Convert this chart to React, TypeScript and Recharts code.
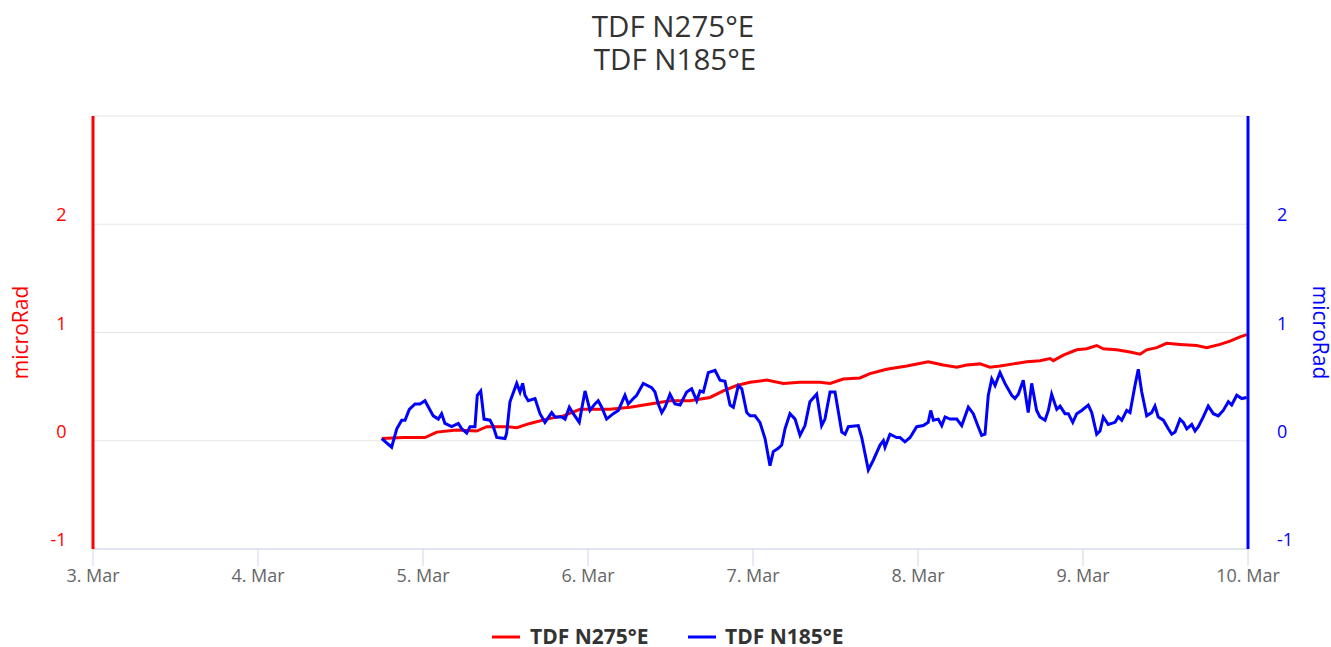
import React from 'react';
import { LineChart, Line, XAxis, YAxis, CartesianGrid } from 'recharts';

const FONT = '"Open Sans", "DejaVu Sans", sans-serif';

const titleLines = ['TDF N275°E', 'TDF N185°E'];
const seriesNames = ['TDF N275°E', 'TDF N185°E'];
const seriesColors = ['#ff0000', '#0000ff'];
const axisTitle = 'microRad';

// x values are days of March (3 = 3. Mar 00:00)
const dayTicks = [3, 4, 5, 6, 7, 8, 9, 10];
const yTicks = [-1, 0, 1, 2, 3];

const redTimes = [
  4.750, 4.881, 5.012, 5.083, 5.204, 5.325, 5.386, 5.507, 5.568, 5.648,
  5.750, 5.850, 5.952, 6.073, 6.133, 6.255, 6.376, 6.497, 6.618, 6.739,
  6.820, 6.901, 6.982, 7.083, 7.184, 7.285, 7.406, 7.467, 7.547, 7.648,
  7.709, 7.810, 7.932, 8.062, 8.153, 8.235, 8.295, 8.376, 8.436, 8.497,
  8.578, 8.659, 8.739, 8.800, 8.820, 8.881, 8.962, 9.022, 9.083, 9.123,
  9.204, 9.285, 9.345, 9.386, 9.447, 9.507, 9.588, 9.689, 9.750, 9.830,
  9.891, 9.952, 9.992,
];
const redValues = [
  0.02, 0.03, 0.03, 0.08, 0.10, 0.09, 0.13, 0.13, 0.12, 0.16,
  0.20, 0.23, 0.29, 0.29, 0.29, 0.31, 0.34, 0.37, 0.37, 0.40,
  0.46, 0.51, 0.54, 0.56, 0.53, 0.54, 0.54, 0.53, 0.57, 0.58,
  0.62, 0.66, 0.69, 0.73, 0.70, 0.68, 0.70, 0.71, 0.68, 0.69,
  0.71, 0.73, 0.74, 0.76, 0.74, 0.79, 0.84, 0.85, 0.88, 0.85,
  0.84, 0.82, 0.80, 0.84, 0.86, 0.90, 0.89, 0.88, 0.86, 0.89,
  0.92, 0.96, 0.98,
];

const blueTimes = [
  4.750, 4.810, 4.841, 4.871, 4.891, 4.917, 4.952, 4.982, 5.012, 5.062,
  5.093, 5.113, 5.133, 5.174, 5.214, 5.235, 5.265, 5.285, 5.315, 5.329,
  5.350, 5.370, 5.406, 5.426, 5.447, 5.497, 5.507, 5.527, 5.568, 5.588,
  5.604, 5.618, 5.638, 5.679, 5.709, 5.739, 5.780, 5.800, 5.841, 5.861,
  5.887, 5.911, 5.947, 5.982, 6.012, 6.042, 6.062, 6.083, 6.113, 6.153,
  6.184, 6.224, 6.244, 6.275, 6.295, 6.335, 6.386, 6.406, 6.426, 6.447,
  6.467, 6.497, 6.527, 6.558, 6.598, 6.628, 6.659, 6.679, 6.699, 6.729,
  6.770, 6.800, 6.830, 6.861, 6.881, 6.911, 6.932, 6.962, 6.982, 7.012,
  7.042, 7.073, 7.103, 7.123, 7.153, 7.174, 7.194, 7.224, 7.255, 7.285,
  7.315, 7.345, 7.386, 7.416, 7.436, 7.467, 7.497, 7.538, 7.558, 7.578,
  7.638, 7.659, 7.699, 7.729, 7.770, 7.790, 7.800, 7.830, 7.871, 7.891,
  7.921, 7.952, 7.992, 8.032, 8.062, 8.077, 8.093, 8.123, 8.144, 8.164,
  8.194, 8.235, 8.265, 8.305, 8.335, 8.365, 8.386, 8.406, 8.426, 8.447,
  8.467, 8.497, 8.527, 8.568, 8.588, 8.608, 8.638, 8.668, 8.689, 8.719,
  8.739, 8.770, 8.790, 8.810, 8.841, 8.861, 8.891, 8.911, 8.938, 8.962,
  8.992, 9.032, 9.053, 9.083, 9.103, 9.123, 9.153, 9.194, 9.214, 9.235,
  9.265, 9.285, 9.315, 9.335, 9.356, 9.386, 9.416, 9.436, 9.456, 9.487,
  9.517, 9.538, 9.558, 9.588, 9.608, 9.629, 9.659, 9.679, 9.699, 9.729,
  9.759, 9.790, 9.820, 9.850, 9.881, 9.901, 9.932, 9.962, 9.992,
];
const blueValues = [
  0.02, -0.06, 0.11, 0.19, 0.19, 0.29, 0.34, 0.34, 0.37, 0.23,
  0.20, 0.25, 0.16, 0.13, 0.16, 0.11, 0.07, 0.13, 0.13, 0.42,
  0.46, 0.20, 0.19, 0.13, 0.03, 0.02, 0.07, 0.36, 0.53, 0.45,
  0.53, 0.42, 0.37, 0.39, 0.25, 0.17, 0.26, 0.22, 0.22, 0.20,
  0.31, 0.25, 0.17, 0.46, 0.28, 0.34, 0.37, 0.31, 0.20, 0.25,
  0.28, 0.42, 0.34, 0.39, 0.42, 0.53, 0.49, 0.45, 0.34, 0.26,
  0.31, 0.43, 0.34, 0.33, 0.45, 0.48, 0.37, 0.46, 0.45, 0.63,
  0.65, 0.56, 0.55, 0.33, 0.31, 0.51, 0.48, 0.26, 0.23, 0.23,
  0.17, 0.02, -0.23, -0.10, -0.07, -0.04, 0.11, 0.25, 0.20, 0.05,
  0.14, 0.36, 0.43, 0.14, 0.20, 0.45, 0.45, 0.08, 0.06, 0.13,
  0.14, 0.03, -0.27, -0.18, -0.04, 0.00, -0.06, 0.06, 0.03, 0.03,
  -0.01, 0.03, 0.13, 0.14, 0.17, 0.28, 0.19, 0.20, 0.14, 0.22,
  0.20, 0.20, 0.14, 0.31, 0.25, 0.13, 0.05, 0.06, 0.42, 0.57,
  0.51, 0.63, 0.53, 0.42, 0.39, 0.43, 0.56, 0.26, 0.53, 0.28,
  0.22, 0.19, 0.28, 0.43, 0.29, 0.32, 0.25, 0.25, 0.17, 0.25,
  0.28, 0.33, 0.26, 0.06, 0.09, 0.22, 0.15, 0.17, 0.22, 0.19,
  0.28, 0.26, 0.51, 0.66, 0.45, 0.23, 0.26, 0.32, 0.22, 0.19,
  0.11, 0.06, 0.08, 0.20, 0.17, 0.11, 0.15, 0.09, 0.13, 0.22,
  0.32, 0.25, 0.23, 0.28, 0.36, 0.33, 0.42, 0.39, 0.40,
];

const redData = redTimes.map((t, i) => ({ t, v: redValues[i] }));
const blueData = blueTimes.map((t, i) => ({ t, v: blueValues[i] }));

const W = 1331;
const H = 647;

function makeYTick(color: string, side: 'left' | 'right') {
  return (props: any) => {
    const { x, y, payload } = props;
    if (payload.value === 3) return <g />;
    return (
      <text
        x={side === 'left' ? x - 26.5 : x + 29}
        y={y - 3}
        textAnchor={side === 'left' ? 'end' : 'start'}
        fill={color}
        fontSize={18}
        fontFamily={FONT}
      >
        {String(payload.value)}
      </text>
    );
  };
}

function XTick(props: any) {
  const { x, y, payload } = props;
  return (
    <text x={x} y={y + 16} textAnchor="middle" fill="#666666" fontSize={18} fontFamily={FONT}>
      {`${payload.value}. Mar`}
    </text>
  );
}

function AxisTitle(props: any) {
  const { viewBox, side, color } = props;
  const cy = viewBox.y + viewBox.height / 2;
  const bx = side === 'left' ? viewBox.x - 5.5 : viewBox.x + 65;
  const rot = side === 'left' ? -90 : 90;
  return (
    <text
      transform={`translate(${bx},${cy}) rotate(${rot})`}
      textAnchor="middle"
      fill={color}
      fontSize={21}
      fontFamily={FONT}
    >
      {axisTitle}
    </text>
  );
}

export default function App() {
  return (
    <div
      style={{
        position: 'fixed',
        left: 0,
        top: 0,
        width: W,
        height: H,
        overflow: 'hidden',
        background: '#fff',
      }}
    >
      <LineChart
        width={W}
        height={H}
        margin={{ top: 116, right: 23, bottom: 58, left: 33 }}
      >
        <CartesianGrid yAxisId="left" vertical={false} stroke="#e6e6e6" />
        <XAxis
          dataKey="t"
          type="number"
          domain={[3, 10]}
          ticks={dayTicks}
          interval={0}
          allowDataOverflow
          height={40}
          tickSize={17}
          tickMargin={0}
          axisLine={{ stroke: '#ccd6eb' }}
          tickLine={{ stroke: '#ccd6eb' }}
          tick={<XTick />}
        />
        <YAxis
          yAxisId="left"
          orientation="left"
          domain={[-1, 3]}
          ticks={yTicks}
          interval={0}
          width={60}
          tickSize={0}
          tickMargin={0}
          tickLine={false}
          axisLine={{ stroke: seriesColors[0], strokeWidth: 3 }}
          tick={makeYTick(seriesColors[0], 'left')}
          label={<AxisTitle side="left" color={seriesColors[0]} />}
        />
        <YAxis
          yAxisId="right"
          orientation="right"
          domain={[-1, 3]}
          ticks={yTicks}
          interval={0}
          width={60}
          tickSize={0}
          tickMargin={0}
          tickLine={false}
          axisLine={{ stroke: seriesColors[1], strokeWidth: 3 }}
          tick={makeYTick(seriesColors[1], 'right')}
          label={<AxisTitle side="right" color={seriesColors[1]} />}
        />
        <Line
          yAxisId="left"
          data={redData}
          dataKey="v"
          name={seriesNames[0]}
          type="linear"
          stroke={seriesColors[0]}
          strokeWidth={3}
          dot={false}
          activeDot={false}
          isAnimationActive={false}
        />
        <Line
          yAxisId="right"
          data={blueData}
          dataKey="v"
          name={seriesNames[1]}
          type="linear"
          stroke={seriesColors[1]}
          strokeWidth={3}
          dot={false}
          activeDot={false}
          isAnimationActive={false}
        />
      </LineChart>
      <svg
        width={W}
        height={H}
        style={{ position: 'absolute', left: 0, top: 0, pointerEvents: 'none' }}
      >
        <text x={673} y={37} textAnchor="middle" fill="#333333" fontSize={29.5} fontFamily={FONT}>
          {titleLines[0]}
        </text>
        <text x={675} y={70} textAnchor="middle" fill="#333333" fontSize={29.5} fontFamily={FONT}>
          {titleLines[1]}
        </text>
        <line x1={492} x2={520} y1={637} y2={637} stroke={seriesColors[0]} strokeWidth={3} />
        <text x={530} y={644} fill="#333333" fontSize={21} fontWeight="bold" fontFamily={FONT}>
          {seriesNames[0]}
        </text>
        <line x1={688} x2={716} y1={637} y2={637} stroke={seriesColors[1]} strokeWidth={3} />
        <text x={725} y={644} fill="#333333" fontSize={21} fontWeight="bold" fontFamily={FONT}>
          {seriesNames[1]}
        </text>
      </svg>
    </div>
  );
}
